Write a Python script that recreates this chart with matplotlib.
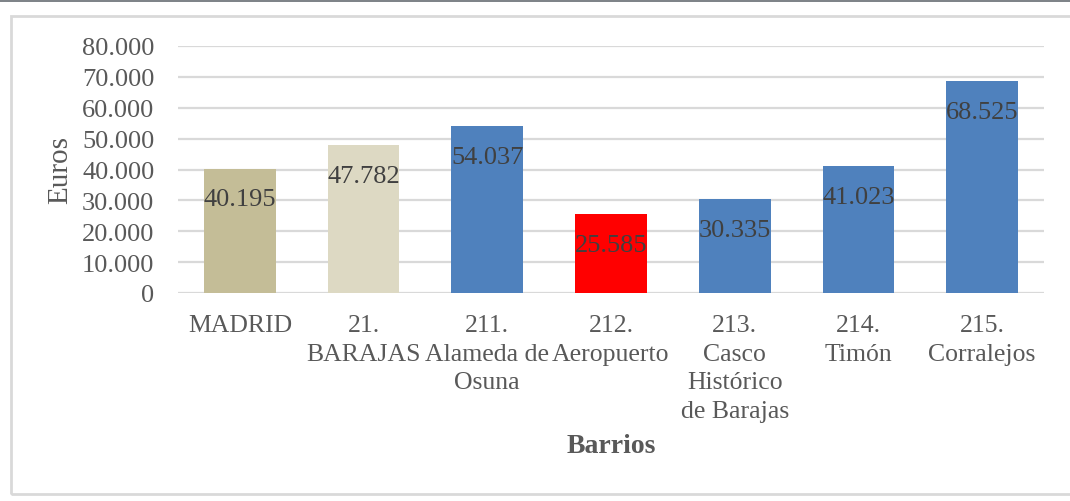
import matplotlib
matplotlib.use("Agg")
import matplotlib.pyplot as plt
from matplotlib.patches import Rectangle
from matplotlib.ticker import FuncFormatter

# Renta media por barrio (euros)
categories = ["MADRID", "21.\nBARAJAS", "211.\nAlameda de\nOsuna", "212.\nAeropuerto",
              "213.\nCasco\nHistórico\nde Barajas", "214.\nTimón", "215.\nCorralejos"]
values = [40195, 47782, 54037, 25585, 30335, 41023, 68525]
value_labels = ["40.195", "47.782", "54.037", "25.585", "30.335", "41.023", "68.525"]
bar_colors = ["#C4BD97", "#DDD9C3", "#4F81BD", "#FF0000", "#4F81BD", "#4F81BD", "#4F81BD"]
yticks = [0, 10000, 20000, 30000, 40000, 50000, 60000, 70000, 80000]

plt.rcParams["font.family"] = ["Liberation Serif", "DejaVu Serif"]
FS = 19

fig = plt.figure(figsize=(10.70, 5.02), dpi=100)
fig.patch.set_facecolor("white")

# outer chart frame and top rule
fig.add_artist(Rectangle((11 / 1070, 1 - 495 / 502), 1.2, (495 - 17) / 502,
                         transform=fig.transFigure, fill=False,
                         edgecolor="#D9D9D9", linewidth=2))
fig.add_artist(Rectangle((0, 1 - 3 / 502), 1, 2 / 502, transform=fig.transFigure,
                         facecolor="#7F8489", edgecolor="none"))
fig.add_artist(Rectangle((0, 1 - 1 / 502), 1, 1 / 502, transform=fig.transFigure,
                         facecolor="#BFE6F0", edgecolor="none"))

ax = fig.add_axes([178 / 1070, 1 - 294 / 502, (1044 - 178) / 1070, (294 - 47) / 502])
x = list(range(len(categories)))
bars = ax.bar(x, values, width=0.58, color=bar_colors, zorder=3)

for xi, v, lab in zip(x, values, value_labels):
    ax.annotate(lab, xy=(xi, v), xytext=(0, -22), textcoords="offset points",
                ha="center", va="center", fontsize=FS, color="#404040", zorder=4)

ax.set_xlim(-0.5, len(categories) - 0.5)
ax.set_ylim(0, 80000)
ax.set_yticks(yticks)
ax.yaxis.set_major_formatter(FuncFormatter(lambda v, p: f"{int(v):,}".replace(",", ".")))
ax.grid(axis="y", color="#D9D9D9", linewidth=1.6, zorder=0)
ax.set_xticks(x)
ax.set_xticklabels(categories, fontsize=18.5, color="#595959", linespacing=1.4, va="top")
ax.tick_params(axis="x", length=0, pad=15)
ax.tick_params(axis="y", length=0, pad=17, labelsize=FS, labelcolor="#595959")
for s in ax.spines.values():
    s.set_visible(False)

fig.text(60 / 1070, 1 - 170 / 502, "Euros", rotation=90, ha="center", va="center",
         fontsize=21, color="#595959")
fig.text(611 / 1070, 1 - 447 / 502, "Barrios", ha="center", va="center",
         fontsize=20, fontweight="bold", color="#595959")

fig.savefig("out.png", dpi=100, facecolor="white")
